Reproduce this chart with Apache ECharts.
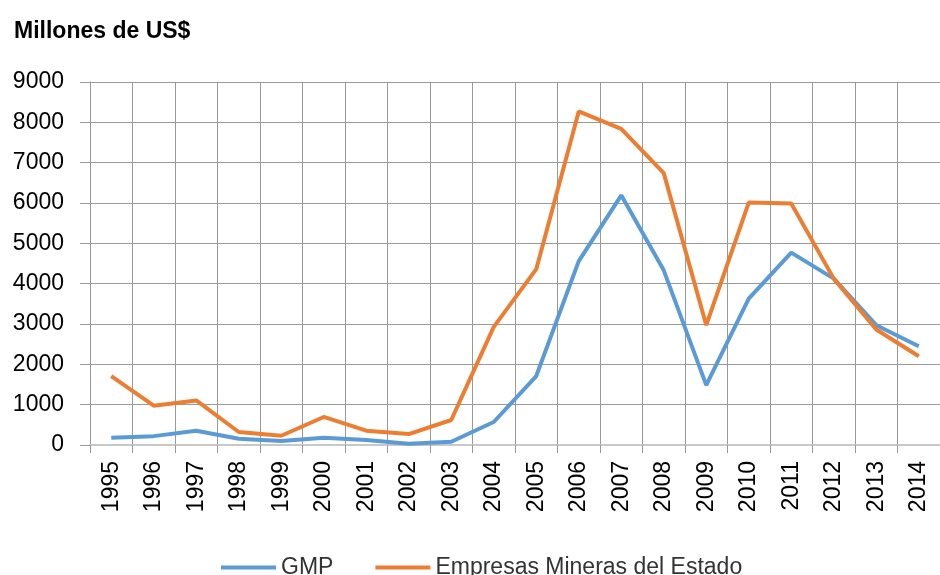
<!DOCTYPE html>
<html>
<head>
<meta charset="utf-8">
<script src="https://cdn.jsdelivr.net/npm/echarts@6/dist/echarts.min.js"></script>
<style>
  html, body { margin: 0; padding: 0; background: #fff; }
  #chart { width: 940px; height: 575px; }
</style>
</head>
<body>
<div id="chart"></div>
<script>
var years = ['1995','1996','1997','1998','1999','2000','2001','2002','2003','2004',
	'2005','2006','2007','2008','2009','2010','2011','2012','2013','2014'];
var gmp = [180, 220, 355, 156, 100, 180, 124, 30, 82, 570,
	1710, 4560, 6190, 4330, 1485, 3630, 4770, 4125, 2970, 2450];
var ememe = [1710, 975, 1105, 322, 230, 695, 355, 272, 620, 2930,
	4360, 8270, 7840, 6740, 2970, 6010, 5985, 4125, 2865, 2200];
var yTicks = [0, 9000, 1000];

var fontName = 'Liberation Sans';
var gridColor = '#999999';

var myChart = echarts.init(document.getElementById('chart'));
var option = {
	animation: false,
	title: {
		text: 'Millones de US$',
		left: 9,
		top: 15,
		textStyle: {
			fontFamily: fontName,
			fontWeight: 'bold',
			fontSize: 23,
			color: '#000'
		}
	},
	legend: {
		left: 216,
		top: 551,
		itemWidth: 55,
		itemHeight: 4,
		itemGap: 42,
		icon: 'rect',
		textStyle: {
			fontFamily: fontName,
			fontSize: 23,
			color: '#333'
		},
		data: ['GMP', 'Empresas Mineras del Estado']
	},
	grid: {
		left: 90,
		top: 82,
		right: -9,
		bottom: 130
	},
	xAxis: {
		type: 'category',
		data: years,
		boundaryGap: true,
		axisLine: { lineStyle: { color: '#c8c8c8', width: 2 } },
		axisTick: { show: true, interval: 0, length: 8, lineStyle: { color: gridColor } },
		axisLabel: {
			interval: 0,
			rotate: 90,
			margin: 16,
			fontFamily: fontName,
			fontSize: 23,
			color: '#000'
		},
		splitLine: { show: true, interval: 0, lineStyle: { color: gridColor, width: 1 } }
	},
	yAxis: {
		type: 'value',
		min: yTicks[0],
		max: yTicks[1],
		interval: yTicks[2],
		axisLine: { show: true, lineStyle: { color: gridColor, width: 1 } },
		axisTick: { show: true, length: 10, lineStyle: { color: gridColor } },
		axisLabel: {
			margin: 26,
			fontFamily: fontName,
			fontSize: 23,
			color: '#000',
			formatter: function (v) { return String(v); }
		},
		splitLine: { show: true, lineStyle: { color: gridColor, width: 1 } }
	},
	series: [
		{
			name: 'GMP',
			type: 'line',
			data: gmp,
			symbol: 'none',
			color: '#5B9BD5',
			lineStyle: { width: 4, color: '#5B9BD5' }
		},
		{
			name: 'Empresas Mineras del Estado',
			type: 'line',
			data: ememe,
			symbol: 'none',
			color: '#ED7D31',
			lineStyle: { width: 4, color: '#ED7D31' }
		}
	]
};
myChart.setOption(option);
</script>
</body>
</html>
